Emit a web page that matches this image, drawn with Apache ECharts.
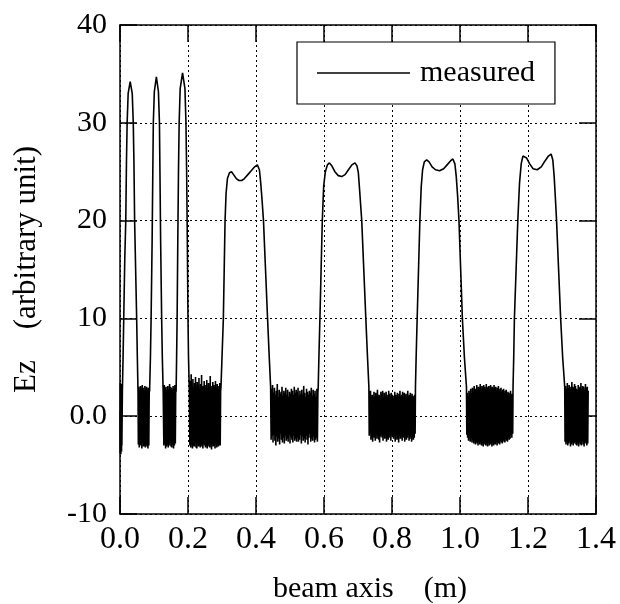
<!DOCTYPE html>
<html>
<head>
<meta charset="utf-8">
<script src="https://cdn.jsdelivr.net/npm/echarts@6/dist/echarts.min.js"></script>
<style>
  html, body { margin: 0; padding: 0; background: #fff; }
  #chart { width: 620px; height: 604px; }
</style>
</head>
<body>
<div id="chart"></div>
<script>
// ---- Axis ticks ----
const xTicks = [0.0, 0.2, 0.4, 0.6, 0.8, 1.0, 1.2, 1.4];
const yTicks = [-10, 0, 10, 20, 30, 40];

// ---- Smooth parts of the measured Ez profile: [beam axis (m), Ez] ----
const peak1 = [[0.007,2.5],[0.009,6],[0.011,10],[0.014,16],[0.017,20],[0.019,26],[0.021,30],[0.024,33],[0.030,34.2],[0.036,33],[0.039,30],[0.041,26],[0.043,20],[0.046,15],[0.049,10],[0.051,6],[0.053,2.5]];
const peak2 = [[0.087,2.5],[0.0895,6],[0.0915,10],[0.0945,18],[0.0965,25],[0.098,30],[0.101,33.2],[0.107,34.7],[0.113,33.2],[0.116,30],[0.1175,25],[0.1195,18],[0.1225,10],[0.1245,6],[0.127,2.5]];
const peak3 = [[0.165,2.5],[0.1665,6],[0.168,10],[0.170,18],[0.172,25],[0.174,30],[0.177,33.5],[0.184,35.1],[0.191,33.5],[0.194,30],[0.196,25],[0.198,18],[0.200,10],[0.2015,6],[0.204,2.5]];
const cell1 = [[0.297,3],[0.300,6],[0.304,10],[0.3065,15],[0.309,20],[0.312,22.8],[0.316,24.3],[0.322,24.9],[0.328,25.0],[0.334,24.7],[0.342,24.3],[0.350,24.1],[0.358,24.1],[0.366,24.3],[0.376,24.7],[0.386,25.1],[0.396,25.5],[0.404,25.7],[0.410,25.2],[0.414,23.8],[0.418,22.0],[0.422,20],[0.428,15],[0.434,10],[0.439,6],[0.443,3]];
const cell2 = [[0.583,3],[0.585,6],[0.588,10],[0.5915,15],[0.595,20],[0.599,23.5],[0.604,25.0],[0.610,25.7],[0.616,25.9],[0.623,25.6],[0.632,25.0],[0.642,24.6],[0.652,24.5],[0.662,24.7],[0.672,25.2],[0.682,25.7],[0.691,25.9],[0.697,25.6],[0.701,24.9],[0.705,23],[0.711,20],[0.717,15],[0.723,10],[0.728,6],[0.732,3]];
const cell3 = [[0.869,3],[0.871,6],[0.874,10],[0.878,15],[0.882,20],[0.886,23.5],[0.890,25.2],[0.895,26.0],[0.902,26.2],[0.909,26.0],[0.918,25.5],[0.928,25.2],[0.940,25.1],[0.952,25.3],[0.962,25.7],[0.972,26.1],[0.979,26.3],[0.985,25.8],[0.989,24.5],[0.993,22.5],[0.997,20],[1.002,15],[1.007,10],[1.013,6],[1.019,3]];
const cell4 = [[1.156,3],[1.158,6],[1.160,10],[1.165,15],[1.170,20],[1.175,23.8],[1.180,25.8],[1.185,26.6],[1.189,26.7],[1.196,26.4],[1.205,25.8],[1.215,25.3],[1.227,25.2],[1.239,25.5],[1.250,26.1],[1.260,26.6],[1.268,26.8],[1.273,26.2],[1.277,24.5],[1.281,22],[1.284,20],[1.290,15],[1.296,10],[1.302,6],[1.308,3]];

// ---- Noisy stretches between cells: Ez samples, and the span (m) they cover ----
const noiseASpan = [0.000, 0.0055];
const noiseA = [0.5, -3.8, 3.4, -3.5, 3.0, -3.9, 3.3, -3.2, 2.9, -3.6, 3.1, -3.0];
const noiseBSpan = [0.054, 0.086];
const noiseB = [-2.9, 3.0, -3.2, 2.7, -3.0, 3.1, -2.9, 2.8, -3.3, 3.2, -2.7, 2.9, -3.1, 2.6, -3.0, 3.1, -3.2, 2.8, -2.9, 3.0, -3.1, 2.7, -3.3, 2.9, -3.0, 2.8];
const noiseCSpan = [0.129, 0.164];
const noiseC = [-3.0, 3.2, -2.8, 2.9, -3.3, 3.0, -3.1, 2.7, -2.9, 3.1, -3.2, 2.8, -3.0, 3.3, -2.7, 3.0, -3.1, 2.9, -3.2, 2.7, -2.9, 3.1, -3.3, 2.8, -3.0, 3.2, -2.8, 2.9];
const noiseDSpan = [0.2055, 0.296];
const noiseD = [-3.0, 3.6, -3.2, 4.3, -2.9, 3.1, -3.3, 3.8, -3.0, 2.9, -3.1, 3.4, -2.8, 4.0, -3.2, 3.0, -3.3, 3.5, -2.9, 3.2, -3.1, 3.9, -3.0, 2.8, -3.2, 3.3, -2.9, 4.2, -3.1, 3.0, -3.3, 3.1, -2.8, 3.6, -3.0, 2.9,
  -3.2, 3.2, -3.0, 3.7, -3.3, 2.9, -2.9, 3.4, -3.1, 3.0, -3.2, 4.1, -3.0, 3.1, -3.4, 2.8, -2.9, 3.5, -3.1, 3.2, -3.0, 3.0, -3.3, 3.6, -2.8, 2.9, -3.2, 3.3, -3.0, 3.1, -3.1, 2.8, -2.9, 3.4, -3.0, 2.6];
const noiseESpan = [0.4445, 0.582];
const noiseE = [-2.4, 2.8, -2.0, 3.2, -2.7, 2.4, -1.9, 2.9, -2.5, 2.2, -3.0, 2.6, -2.1, 3.3, -2.6, 2.0, -2.3, 2.7, -2.9, 2.3, -1.8, 2.5, -2.4, 3.0, -2.7, 2.1, -2.2, 2.6, -2.8, 2.4, -2.0, 2.9, -2.5, 2.2, -2.3, 2.7, -2.6, 2.0, -1.9, 2.5, -2.8, 2.3, -2.1, 2.8, -2.4, 2.6, -2.7, 2.2, -2.0, 3.0, -2.5, 2.4, -2.3, 2.7, -2.6, 2.5,
  -2.2, 2.9, -2.6, 2.1, -2.4, 2.6, -1.9, 2.3, -2.8, 2.7, -2.1, 2.2, -2.5, 3.1, -2.3, 2.4, -2.7, 2.0, -2.0, 2.8, -2.4, 2.5, -2.9, 2.2, -2.2, 2.6, -1.8, 2.4, -2.6, 2.9, -2.3, 2.1, -2.5, 2.7, -2.1, 2.3, -2.7, 2.6, -2.4, 2.0, -2.2, 2.8, -2.6, 2.4];
const noiseFSpan = [0.733, 0.868];
const noiseF = [-2.0, 2.3, -1.7, 2.6, -2.4, 1.9, -2.1, 2.2, -2.6, 1.8, -1.9, 2.5, -2.2, 2.0, -2.5, 2.4, -1.8, 2.1, -2.3, 2.7, -2.0, 1.9, -2.4, 2.2, -2.7, 2.0, -2.1, 2.5, -1.9, 2.3, -2.2, 2.6, -2.5, 1.8, -2.0, 2.4, -2.3, 2.1, -1.8, 2.5, -2.6, 2.2, -2.1, 1.9, -2.4, 2.6, -2.0, 2.3, -2.2, 2.0, -2.5, 2.4, -1.9, 2.2, -2.1,
  2.1, -2.3, 1.8, -2.0, 2.5, -2.6, 2.2, -1.9, 2.0, -2.4, 2.4, -2.2, 1.9, -2.7, 2.3, -2.0, 2.6, -2.3, 2.0, -1.8, 2.2, -2.5, 2.5, -2.1, 1.8, -2.2, 2.4, -2.6, 2.1, -2.0, 2.3, -2.4, 1.9, -2.2, 2.6, -1.9, 2.0, -2.5, 2.2, -2.3, 2.4, -2.0, 1.9, -2.6, 2.3, -2.1, 2.1, -2.4, 2.0, -2.2, 2.2, -1.8];
const noiseGSpan = [1.020, 1.155];
const noiseG = [-1.9, 2.4, -2.2, 1.9, -2.5, 2.6, -2.0, 2.3, -2.6, 2.8, -2.2, 2.4, -2.7, 2.9, -2.4, 2.5, -2.8, 3.1, -2.5, 2.7, -2.9, 2.8, -2.6, 3.2, -2.8, 2.7, -3.0, 3.0, -2.6, 2.9, -2.9, 3.3, -2.7, 2.8, -3.0, 3.1, -2.8, 2.9, -3.1, 3.2, -2.7, 3.0, -2.9, 2.8, -3.0, 3.3, -2.8, 2.9, -3.1, 3.0, -2.7, 3.1, -3.0, 2.8, -2.8,
  3.2, -2.9, 2.9, -3.1, 3.0, -2.7, 2.8, -3.0, 3.2, -2.8, 2.9, -2.9, 3.0, -2.6, 2.7, -3.0, 2.9, -2.7, 3.1, -2.8, 2.6, -2.9, 2.8, -2.5, 2.9, -2.7, 2.5, -2.8, 2.7, -2.4, 2.8, -2.6, 2.4, -2.7, 2.6, -2.3, 2.7, -2.5, 2.2, -2.6, 2.5, -2.1, 2.4, -2.4, 2.0, -2.3, 2.6, -1.9, 2.2, -2.2, 2.3, -1.8];
const noiseHSpan = [1.309, 1.377];
const noiseH = [-2.6, 3.1, -2.9, 2.8, -2.7, 3.4, -3.0, 2.9, -2.8, 3.2, -2.6, 3.0, -3.1, 2.8, -2.9, 3.5, -2.7, 3.0, -3.0, 2.9, -2.8, 3.3, -2.6, 3.1, -2.9, 2.8, -3.0, 2.7,
  -2.8, 3.2, -3.1, 2.9, -2.7, 3.0, -2.9, 3.4, -3.0, 2.8, -2.6, 3.1, -2.9, 3.0, -3.1, 2.7, -2.8, 3.3, -2.7, 2.9, -3.0, 3.0, -2.8, 2.6];

const seriesName = 'measured';

// place noise samples evenly across their span
function samples(span, vals) {
  return vals.map((v, i) => [span[0] + (span[1] - span[0]) * i / (vals.length - 1), v]);
}
const measured = [].concat(
  samples(noiseASpan, noiseA), peak1,
  samples(noiseBSpan, noiseB), peak2,
  samples(noiseCSpan, noiseC), peak3,
  samples(noiseDSpan, noiseD), cell1,
  samples(noiseESpan, noiseE), cell2,
  samples(noiseFSpan, noiseF), cell3,
  samples(noiseGSpan, noiseG), cell4,
  samples(noiseHSpan, noiseH)
);

const FONT = "'Liberation Serif', 'Times New Roman', serif";
const axisLineStyle = { color: '#000', width: 1.5 };
const gridLineStyle = { color: '#000', width: 1, type: [2, 3] };

const chart = echarts.init(document.getElementById('chart'), null, { renderer: 'canvas' });
chart.setOption({
  animation: false,
  backgroundColor: '#fff',
  grid: { left: 120, right: 24, top: 25, bottom: 90, containLabel: false, outerBoundsMode: 'none' },
  legend: {
    data: [seriesName],
    left: 297, top: 42,
    padding: [16, 20, 16, 20],
    backgroundColor: '#fff',
    borderColor: '#000', borderWidth: 1.2,
    icon: 'rect',
    itemWidth: 93, itemHeight: 1.5,
    itemStyle: { color: '#000', borderWidth: 0 },
    textStyle: { fontFamily: FONT, fontSize: 30, color: '#000', padding: [0, 0, 0, 5] }
  },
  xAxis: [{
    type: 'value', position: 'bottom',
    min: xTicks[0], max: xTicks[xTicks.length - 1], interval: 0.2,
    name: 'beam axis    (m)', nameLocation: 'middle', nameGap: 60,
    nameTextStyle: { fontFamily: FONT, fontSize: 30, color: '#000', padding: [0, 0, 0, 24] },
    axisLine: { onZero: false, lineStyle: axisLineStyle },
    axisTick: { inside: true, length: 17, lineStyle: axisLineStyle },
    axisLabel: { formatter: v => v.toFixed(1), fontFamily: FONT, fontSize: 32, color: '#000', margin: 10 },
    splitLine: { show: true, lineStyle: gridLineStyle }
  }, {
    type: 'value', position: 'top',
    min: xTicks[0], max: xTicks[xTicks.length - 1], interval: 0.2,
    axisLine: { onZero: false, lineStyle: axisLineStyle },
    axisTick: { inside: true, length: 17, lineStyle: axisLineStyle },
    axisLabel: { show: false },
    splitLine: { show: false }
  }],
  yAxis: [{
    type: 'value', position: 'left',
    min: yTicks[0], max: yTicks[yTicks.length - 1], interval: 10,
    name: 'Ez    (arbitrary unit)', nameLocation: 'middle', nameGap: 78,
    nameTextStyle: { fontFamily: FONT, fontSize: 31, color: '#000' },
    axisLine: { onZero: false, lineStyle: axisLineStyle },
    axisTick: { inside: true, length: 17, lineStyle: axisLineStyle },
    axisLabel: { formatter: v => (v === 0 ? '0.0' : String(v)), fontFamily: FONT, fontSize: 30, color: '#000', margin: 13 },
    splitLine: { show: true, lineStyle: gridLineStyle }
  }, {
    type: 'value', position: 'right',
    min: yTicks[0], max: yTicks[yTicks.length - 1], interval: 10,
    axisLine: { onZero: false, lineStyle: axisLineStyle },
    axisTick: { inside: true, length: 17, lineStyle: axisLineStyle },
    axisLabel: { show: false },
    splitLine: { show: false }
  }],
  series: [{
    name: seriesName,
    type: 'line',
    data: measured,
    symbol: 'none',
    lineStyle: { color: '#000', width: 1.6 },
    itemStyle: { color: '#000' }
  }]
});
</script>
</body>
</html>
